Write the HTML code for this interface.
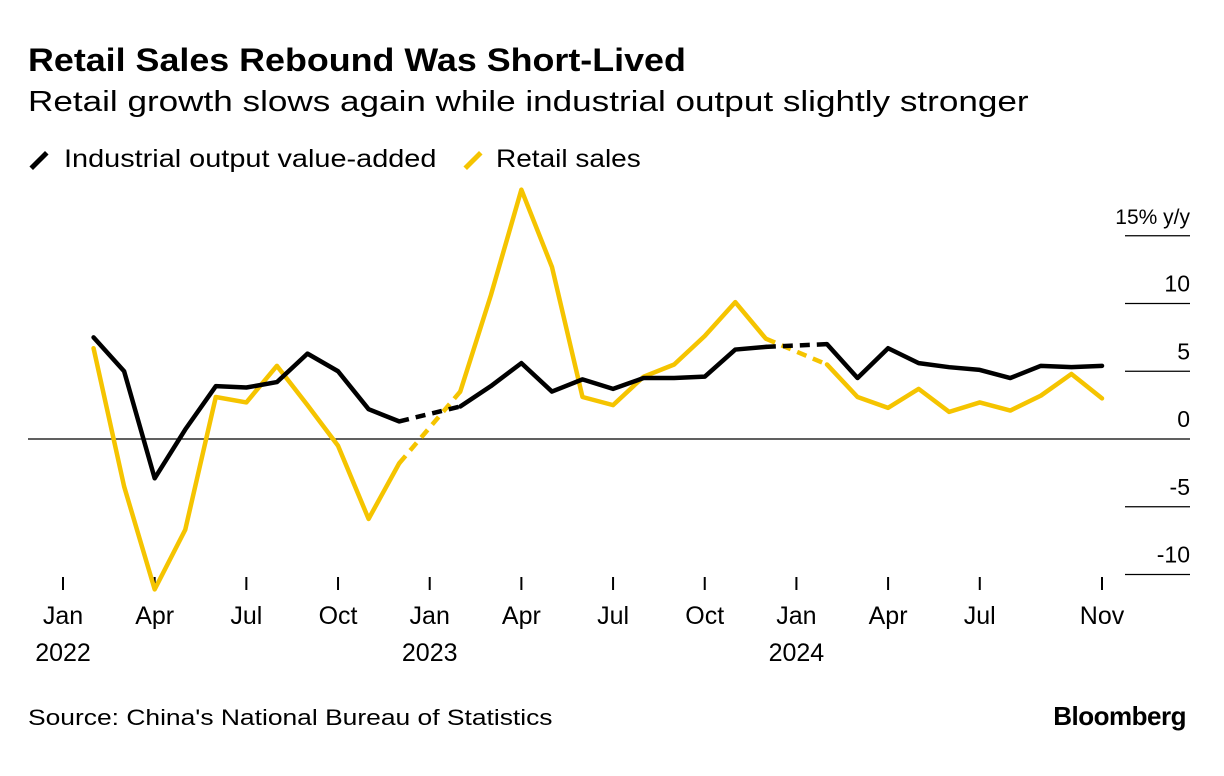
<!DOCTYPE html>
<html><head><meta charset="utf-8">
<style>
body{margin:0;background:#fff;font-family:"Liberation Sans",Arial,sans-serif;}
#wrap{position:relative;width:1224px;height:776px;overflow:hidden;}
.t{position:absolute;white-space:nowrap;color:#000;transform-origin:0 0;}
</style></head>
<body>
<div id="wrap">
<div class="t" style="left:28px;top:42px;font-size:32px;font-weight:bold;transform:scaleX(1.12);">Retail Sales Rebound Was Short-Lived</div>
<div class="t" style="left:28px;top:86px;font-size:29px;transform:scaleX(1.21);">Retail growth slows again while industrial output slightly stronger</div>
<div class="t" style="left:28px;top:145px;font-size:25px;"><span style="display:inline-block;width:22px;height:5px;background:#000;transform:rotate(-45deg);vertical-align:middle;margin-right:14px;"></span><span style="display:inline-block;transform:scaleX(1.155);transform-origin:0 0;">Industrial output value-added</span></div>
<div class="t" style="left:462px;top:145px;font-size:25px;"><span style="display:inline-block;width:22px;height:5px;background:#f5c400;transform:rotate(-45deg);vertical-align:middle;margin-right:12px;"></span><span style="display:inline-block;transform:scaleX(1.12);transform-origin:0 0;">Retail sales</span></div>
<svg id="chart" width="1224" height="776" style="position:absolute;left:0;top:0;"></svg>
<div class="t" style="left:28px;top:705px;font-size:22px;transform:scaleX(1.2);">Source: China's National Bureau of Statistics</div>
<div class="t" style="right:38px;top:701px;font-size:26px;font-weight:bold;letter-spacing:-0.5px;">Bloomberg</div>
</div>
<script>
const industrialMonths=[1,2,3,4,5,6,7,8,9,10,11,13,14,15,16,17,18,19,20,21,22,23,25,26,27,28,29,30,31,32,33,34];
const industrialValues=[7.5,5.0,-2.9,0.7,3.9,3.8,4.2,6.3,5.0,2.2,1.3,2.4,3.9,5.6,3.5,4.4,3.7,4.5,4.5,4.6,6.6,6.8,7.0,4.5,6.7,5.6,5.3,5.1,4.5,5.4,5.3,5.4];
const retailMonths=[1,2,3,4,5,6,7,8,9,10,11,13,14,15,16,17,18,19,20,21,22,23,25,26,27,28,29,30,31,32,33,34];
const retailValues=[6.7,-3.5,-11.1,-6.7,3.1,2.7,5.4,2.5,-0.5,-5.9,-1.8,3.5,10.6,18.4,12.7,3.1,2.5,4.6,5.5,7.6,10.1,7.4,5.5,3.1,2.3,3.7,2.0,2.7,2.1,3.2,4.8,3.0];
const yTicks=[15,10,5,0,-5,-10];
const yTickLabels=["15% y/y","10","5","0","-5","-10"];
const xTickMonths=[0,3,6,9,12,15,18,21,24,27,30,34];
const xTickLabels=["Jan","Apr","Jul","Oct","Jan","Apr","Jul","Oct","Jan","Apr","Jul","Nov"];
const yearLabels=[["2022",0],["2023",12],["2024",24]];

const NS="http://www.w3.org/2000/svg";
const svg=document.getElementById('chart');
const x=m=>63+m*(1102-63)/34;
const y=v=>439-v*13.55;
function mk(tag,attrs){const e=document.createElementNS(NS,tag);for(const k in attrs)e.setAttribute(k,attrs[k]);svg.appendChild(e);return e;}
yTicks.forEach((v,i)=>{
  if(v!==0){const l=mk('line',{x1:1125,x2:1190,y1:y(v),y2:y(v),stroke:'#000','stroke-width':1.3});
  
  }
  const t=mk('text',{x:1190,y:y(v)-12,'text-anchor':'end','font-size':23,'font-family':'Liberation Sans, sans-serif'});
  if(i===0)t.setAttribute('font-size',21);
  t.textContent=yTickLabels[i];
  
  
});
const z=mk('line',{x1:28,x2:1190,y1:y(0),y2:y(0),stroke:'#000','stroke-width':1.3});


xTickMonths.forEach((m,i)=>{
  const l=mk('line',{x1:x(m),x2:x(m),y1:577,y2:590,stroke:'#000','stroke-width':2});
  
  
  const t=mk('text',{x:x(m),y:624,'text-anchor':'middle','font-size':25,'font-family':'Liberation Sans, sans-serif'});
  t.textContent=xTickLabels[i];
  
  
});
yearLabels.forEach(([lab,m])=>{
  const t=mk('text',{x:x(m),y:661,'text-anchor':'middle','font-size':25,'font-family':'Liberation Sans, sans-serif'});
  t.textContent=lab;
  
  
});
function drawSeries(months,vals,color,name){
  let seg=[];const segs=[];
  for(let i=0;i<months.length;i++){
    if(i>0&&months[i]-months[i-1]>1){segs.push({pts:seg,dash:false});segs.push({pts:[[months[i-1],vals[i-1]],[months[i],vals[i]]],dash:true});seg=[];}
    seg.push([months[i],vals[i]]);
  }
  segs.push({pts:seg,dash:false});
  segs.forEach(s=>{
    const p=mk('polyline',{points:s.pts.map(q=>x(q[0])+','+y(q[1])).join(' '),fill:'none',stroke:color,'stroke-width':4.5,'stroke-linejoin':'round','stroke-linecap':s.dash?'butt':'round'});
    if(s.dash)p.setAttribute('stroke-dasharray','10 7');
    
    
  });
}
drawSeries(retailMonths,retailValues,'#f5c400','retail-sales-line');
drawSeries(industrialMonths,industrialValues,'#000','industrial-output-line');
</script>
</body></html>
